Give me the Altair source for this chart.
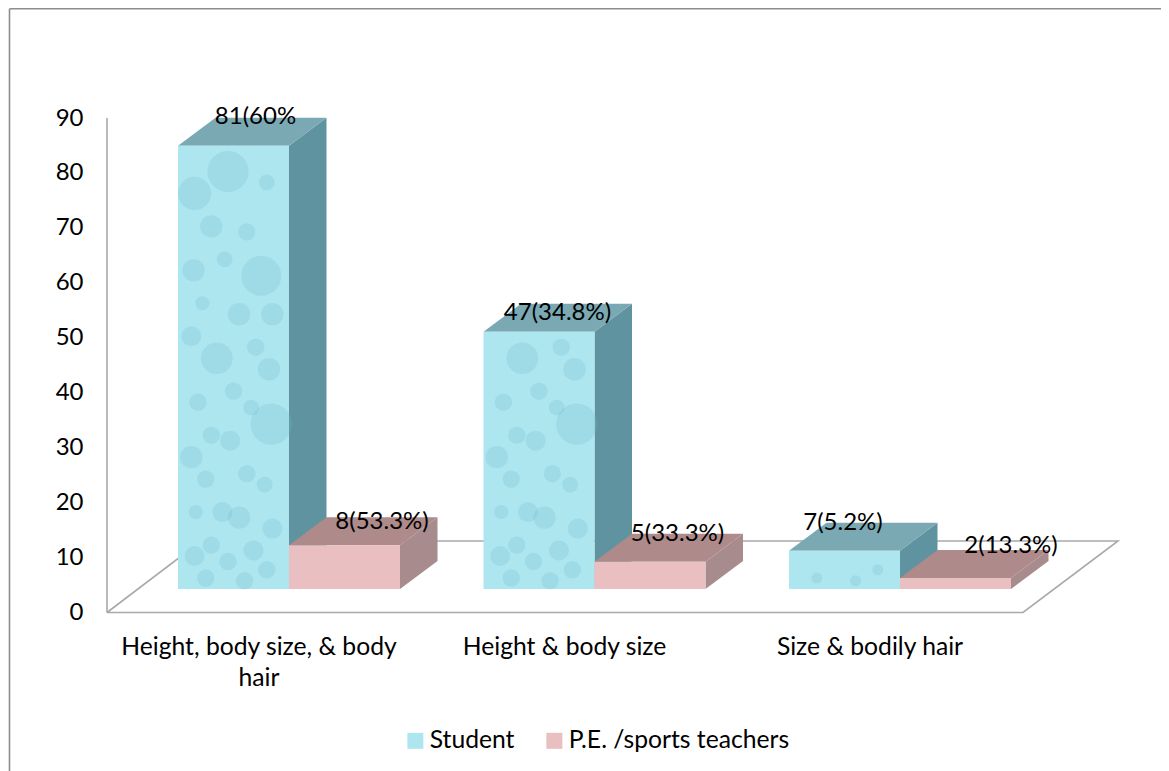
import altair as alt
import pandas as pd

# ---- chart values
categories = ["Height, body size, & body\nhair", "Height &  body size", "Size & bodily hair"]
series = ["Student", "P.E. /sports teachers"]
student = [81, 47, 7]
teachers = [8, 5, 2]
student_labels = ["81(60%", "47(34.8%)", "7(5.2%)"]
teacher_labels = ["8(53.3%)", "5(33.3%)", "2(13.3%)"]
y_ticks = [0, 10, 20, 30, 40, 50, 60, 70, 80, 90]

# texture droplets on the student bars: share of bar width, height in axis units, size
drop_u = [.45,.15,.80,.30,.62,.14,.75,.42,.85,.22,.55,.70,.12,.35,.82,.50,.18,.66,.30,.84,.47,.12,.62,.25,.78,.40,.16,.55,.85,.30,.68,.15,.45,.80,.25,.60]
drop_h = [76,72,74,66,65,58,57,60,50,52,50,44,46,42,40,36,34,33,28,30,27,24,21,20,19,14,14,13,11,8,7,6,5,3.5,2,1.5]
drop_s = [1700,1100,250,500,300,500,1600,250,500,200,500,300,400,1000,500,300,300,250,300,1700,400,500,300,300,250,400,200,500,400,300,400,400,300,300,300,300]

# ---- layout of the drawing
W, H = 1153, 763
LEFT, TOP = 8, 8
UNIT = (612.5 - 118) / 90
def v_of(px):
    return (612.5 - px) / UNIT
BASE = v_of(589)
FRONT = 0.996
DX, DY = 37.5, 28 / UNIT
SLOT = 305.5
BAR = 111
FONT = "Lato"
FS = 24
FS_CAT = 24.7

x_s = alt.Scale(domain=[LEFT, LEFT + W], range=[0, W], nice=False, zero=False)
y_s = alt.Scale(domain=[v_of(TOP + H), v_of(TOP)], range=[H, 0], nice=False, zero=False)
y_axis = alt.Axis(values=y_ticks, title=None, grid=False, domain=False, ticks=False, labelPadding=24, offset=-99,
                  labelFont=FONT, labelFontSize=FS, labelColor="#000", labelFlush=False, labelOverlap=False, format="d")
X = alt.X("x:Q", scale=x_s, axis=None)
Y = alt.Y("y:Q", scale=y_s, axis=y_axis)

def face_rows(x0, top, face):
    b = BASE
    x1 = x0 + BAR
    if face == "side":
        pts = [(x1, top, b), (x1 + DX, top + DY, b + DY)]
    else:
        pts = [(x0, top, top), (x0 + DX, top + DY, top), (x1, top + DY, top), (x1 + DX, top + DY, top + DY)]
    return [dict(x=px, y=y, y2=y2) for px, y, y2 in pts]

def face_layer(rows, color):
    return alt.Chart(pd.DataFrame(rows)).mark_area(color=color, opacity=1, orient="vertical").encode(X, Y, y2="y2:Q")

C_SIDE_S, C_TOP_S, C_SIDE_T, C_TOP_T = "#5f939f", "#7aa9b4", "#a88b8c", "#ae8a8b"

front = []
layers_s, layers_t = [], []
for i, (s, t) in enumerate(zip(student, teachers)):
    x0 = 178 + SLOT * i
    x1 = x0 + BAR
    ts = BASE + s * FRONT
    tt = BASE + t * FRONT
    layers_s += [face_layer(face_rows(x0, ts, "side"), C_SIDE_S), face_layer(face_rows(x0, ts, "top"), C_TOP_S)]
    layers_t += [face_layer(face_rows(x1, tt, "side"), C_SIDE_T), face_layer(face_rows(x1, tt, "top"), C_TOP_T)]
    front.append(dict(x=x0, x2=x1, y=BASE, y2=ts, series=series[0]))
    front.append(dict(x=x1, x2=x1 + BAR, y=BASE, y2=tt, series=series[1]))

texts = []
label_dx = [(77.5, 93), (74, 83), (54, 111)]
label_dy = [(0.2, -0.9), (-1.6, 0.0), (0.0, 0.7)]
for i in range(3):
    x0 = 178 + SLOT * i
    texts.append(dict(x=x0 + label_dx[i][0], y=BASE + student[i] * FRONT + DY + label_dy[i][0], t=student_labels[i]))
    texts.append(dict(x=x0 + BAR + label_dx[i][1], y=BASE + teachers[i] * FRONT + DY + label_dy[i][1], t=teacher_labels[i]))

drops = []
for i, s in enumerate(student):
    x0 = 178 + SLOT * i
    top = s * FRONT
    for u, h, sz in zip(drop_u, drop_h, drop_s):
        if h < top - 2:
            drops.append(dict(x=x0 + u * BAR, y=BASE + h, s=sz if top > 10 else sz * 0.4))

floor = [(107, 612.5), (1023, 612.5), (1118, 541), (201, 541), (107, 612.5)]
floor_df = pd.DataFrame([dict(x=a, y=v_of(b), o=k) for k, (a, b) in enumerate(floor)])
GRAY = "#a9a9ad"

floor_l = alt.Chart(floor_df).mark_line(color=GRAY, strokeWidth=1.6).encode(X, Y, order="o:Q")
axis_l = alt.Chart(pd.DataFrame([dict(x=107, y=0, y2=90)])).mark_rule(color=GRAY, strokeWidth=1.6).encode(X, Y, y2="y2:Q")
frame_t = alt.Chart(pd.DataFrame([dict(x=9.5, x2=1169, y=v_of(8.8))])).mark_rule(color="#8e8e8e", strokeWidth=1.6).encode(X, x2="x2:Q", y=Y)
frame_l = alt.Chart(pd.DataFrame([dict(x=9.5, y=v_of(8.8), y2=v_of(771))])).mark_rule(color="#8e8e8e", strokeWidth=1.6).encode(X, y=Y, y2="y2:Q")

front_df = pd.DataFrame(front)
legend = alt.Legend(orient="none", legendX=395, legendY=720, direction="horizontal", title=None, symbolType="square", symbolSize=256, symbolStrokeWidth=0, labelFont=FONT, labelFontSize=FS_CAT, labelColor="#000", labelLimit=400, columnPadding=27, labelOffset=2, padding=0, symbolOpacity=1)

def front_layer(name):
    d = front_df[front_df.series == name]
    return alt.Chart(d).mark_rect().encode(
        X, x2="x2:Q", y=Y, y2="y2:Q",
        color=alt.Color("series:N", scale=alt.Scale(domain=series, range=["#aee6ef", "#eabfc1"]), legend=legend))

drops_l = alt.Chart(pd.DataFrame(drops)).mark_circle(color="#6fbccd", opacity=0.25).encode(X, Y, size=alt.Size("s:Q", scale=None))
texts_l = alt.Chart(pd.DataFrame(texts)).mark_text(font=FONT, fontSize=FS, color="#000", align="center", baseline="middle").encode(X, Y, text="t:N")

cat_df = pd.DataFrame([dict(x=178 + SLOT * i + BAR - 30, y=v_of(635), t=c) for i, c in enumerate(categories)])
cats_l = alt.Chart(cat_df).mark_text(font=FONT, fontSize=FS_CAT, color="#000", align="center", baseline="top", lineBreak="\n", lineHeight=31).encode(X, Y, text="t:N")

chart = alt.layer(
    axis_l, frame_t, frame_l, floor_l,
    *layers_s, front_layer(series[0]), drops_l,
    *layers_t, front_layer(series[1]),
    texts_l, cats_l,
).properties(width=W, height=H, padding=0, autosize=alt.AutoSizeParams(type="none")).configure_view(stroke=None).configure_legend(padding=0)

chart.save("out.html", embed_options={"renderer": "svg", "actions": False})
